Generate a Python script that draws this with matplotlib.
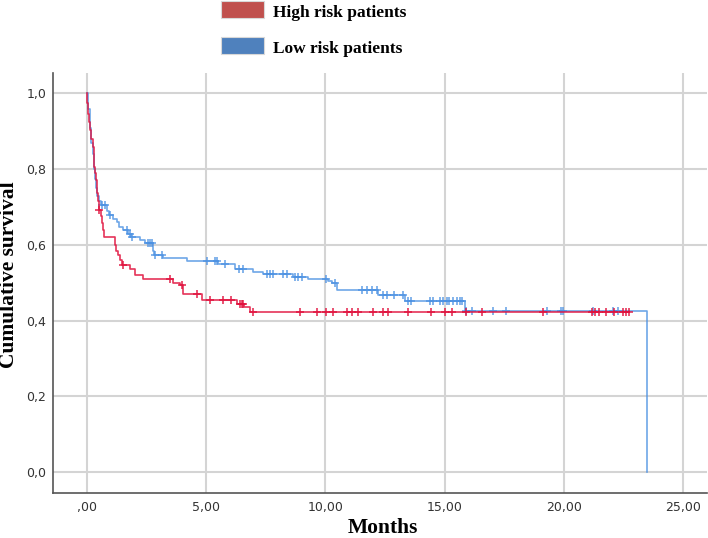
import numpy as np
import matplotlib.pyplot as plt
from matplotlib.patches import Rectangle

# ── Kaplan-Meier data ───────────────────────────────────────────────
# High risk patients: event times (months) and survival after each step
hi_times = [0.00, 0.03, 0.07, 0.10, 0.14, 0.20, 0.25, 0.29, 0.32, 0.36, 0.39,
            0.44, 0.48, 0.50, 0.58, 0.63, 0.68, 0.73, 1.19, 1.24, 1.30, 1.40,
            1.47, 1.81, 2.02, 2.37, 3.63, 3.91, 4.05, 4.82, 6.28, 6.60, 6.84]
hi_surv = [1.000, 0.975, 0.947, 0.925, 0.903, 0.880, 0.859, 0.830, 0.806, 0.790, 0.771,
           0.736, 0.715, 0.692, 0.675, 0.657, 0.638, 0.620, 0.600, 0.585, 0.573, 0.560,
           0.548, 0.535, 0.520, 0.509, 0.498, 0.494, 0.470, 0.454, 0.445, 0.436, 0.423]
hi_end = 22.75
hi_cens = [0.53, 1.53, 3.49, 3.98, 4.61, 5.15, 5.71, 6.06, 6.42, 6.50, 6.56,
           6.98, 8.96, 9.66, 10.05, 10.33, 10.89, 11.10, 11.38, 12.00, 12.40,
           12.61, 13.47, 14.45, 15.02, 15.30, 15.90, 16.55, 19.13, 21.18, 21.29,
           21.46, 21.76, 22.12, 22.48, 22.62, 22.73]

# Low risk patients
lo_times = [0.00, 0.07, 0.14, 0.20, 0.25, 0.30, 0.35, 0.39, 0.44, 0.50, 0.60,
            0.85, 0.95, 1.10, 1.26, 1.37, 1.53, 1.75, 1.85, 2.23, 2.45, 2.76,
            2.82, 3.20, 4.19, 5.50, 6.21, 6.98, 7.40, 8.66, 9.29, 10.10, 10.30,
            10.47, 12.20, 13.33, 15.85, 23.49]
lo_surv = [1.000, 0.960, 0.910, 0.870, 0.840, 0.800, 0.775, 0.750, 0.730, 0.715, 0.705,
           0.690, 0.679, 0.668, 0.660, 0.648, 0.639, 0.628, 0.621, 0.613, 0.604, 0.585,
           0.573, 0.566, 0.558, 0.550, 0.535, 0.529, 0.523, 0.516, 0.511, 0.505, 0.499,
           0.481, 0.467, 0.451, 0.426, 0.000]
lo_cens = [0.63, 0.75, 0.98, 1.68, 1.81, 1.88, 2.56, 2.64, 2.72, 2.86, 3.14,
           5.03, 5.38, 5.45, 5.79, 6.39, 6.53, 7.54, 7.68, 7.82, 8.24, 8.38,
           8.73, 8.87, 9.01, 10.05, 10.40, 11.52, 11.73, 11.94, 12.15, 12.43,
           12.60, 12.90, 13.26, 13.45, 13.58, 14.38, 14.52, 14.80, 14.95, 15.09,
           15.20, 15.36, 15.50, 15.64, 15.71, 15.89, 16.13, 17.03, 17.57, 19.30,
           19.90, 19.96, 21.22, 22.06, 22.27]

x_ticks = [0, 5, 10, 15, 20, 25]
x_labels = [",00", "5,00", "10,00", "15,00", "20,00", "25,00"]
y_ticks = [0.0, 0.2, 0.4, 0.6, 0.8, 1.0]
y_labels = ["0,0", "0,2", "0,4", "0,6", "0,8", "1,0"]

RED = "#e0103c"
BLUE = "#4a90e2"


def surv_at(times, surv, t):
    i = np.searchsorted(times, t, side="right") - 1
    return np.asarray(surv)[i]


fig = plt.figure(figsize=(7.08, 5.38), dpi=100)
ax = fig.add_axes([0.0753, 0.0842, 0.9233, 0.7807])

# curves
lo_t = np.array(lo_times)
lo_s = np.array(lo_surv)
ax.step(lo_t, lo_s, where="post", color=BLUE, lw=1.2, alpha=0.8, zorder=3)
ax.plot(lo_cens, surv_at(lo_t, lo_s, lo_cens), "+", color=BLUE,
        ms=6, mew=1.2, alpha=0.8, zorder=3)

hi_t = np.array(hi_times + [hi_end])
hi_s = np.array(hi_surv + [hi_surv[-1]])
ax.step(hi_t, hi_s, where="post", color=RED, lw=1.2, alpha=0.85, zorder=4)
ax.plot(hi_cens, surv_at(hi_t, hi_s, hi_cens), "+", color=RED,
        ms=6, mew=1.2, alpha=0.85, zorder=4)

ax.set_xlim(-1.4, 26.0)
ax.set_ylim(-0.055, 1.055)
ax.set_xticks(x_ticks)
ax.set_xticklabels(x_labels)
ax.set_yticks(y_ticks)
ax.set_yticklabels(y_labels)
ax.tick_params(length=0, labelsize=9, colors="#333333")
ax.tick_params(axis="y", pad=5)
ax.tick_params(axis="x", pad=6)
ax.grid(True, color="#d4d4d4", lw=1.5, zorder=0)
ax.set_axisbelow(True)
for s in ["top", "right"]:
    ax.spines[s].set_visible(False)
for s in ["left", "bottom"]:
    ax.spines[s].set_color("#555555")
    ax.spines[s].set_linewidth(1.2)

lab = dict(family="Liberation Serif", fontweight="bold", fontsize=15.5)
ax.set_xlabel("Months", **lab)
ax.set_ylabel("Cumulative survival", **lab)
ax.xaxis.set_label_coords(0.504, -0.060)
ax.yaxis.set_label_coords(-0.053, 0.52)

# legend at the top
W, H = 708.0, 538.0
for y0, col, txt in [(1.0, "#c0504d", "High risk patients"),
                     (36.7, "#4f81bd", "Low risk patients")]:
    fig.patches.append(Rectangle((220.7 / W, 1 - (y0 + 17.3) / H), 43.6 / W, 17.3 / H,
                                 transform=fig.transFigure, facecolor=col,
                                 edgecolor="#d8d8d8", lw=0.8))
    fig.text(273 / W, 1 - (y0 + 12.0) / H, txt, ha="left", va="center",
             family="Liberation Serif", fontweight="bold", fontsize=12.5)

fig.savefig("out.png", dpi=100)
